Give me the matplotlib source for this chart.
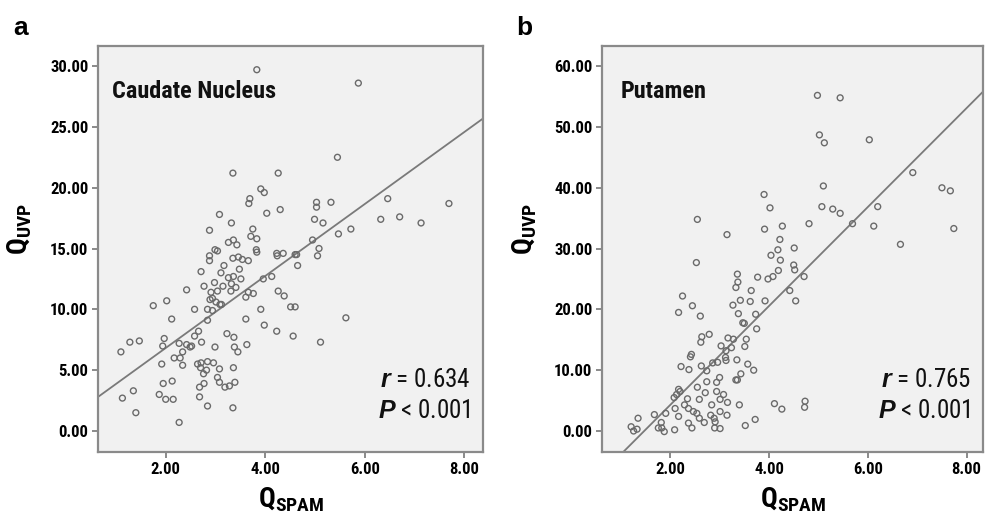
import numpy as np
import matplotlib
matplotlib.use("Agg")
import matplotlib.pyplot as plt
import matplotlib.font_manager as fm

# Caudate nucleus: Q_SPAM vs Q_UVP
caud_x = [3.83, 5.87, 5.45, 3.35, 4.26, 3.91, 3.98, 3.69, 3.67, 4.03, 4.30, 3.08,
          5.03, 5.03, 5.32, 6.46, 7.69, 6.70, 6.32, 7.13, 4.99, 5.16, 5.72, 5.47,
          3.32, 2.88, 3.75, 3.71, 3.83, 3.26, 3.36, 3.43, 4.95, 5.08, 5.05, 2.99,
          3.04, 2.88, 2.88, 3.35, 3.46, 3.54, 3.66, 3.82, 3.83, 4.23, 4.24, 4.36,
          4.60, 4.63, 4.65, 3.17, 3.48, 2.71, 3.11, 3.26, 3.36, 3.51, 2.98, 3.32,
          3.96, 4.13, 2.77, 3.15, 3.41, 3.31, 3.04, 2.91, 2.42, 4.26, 4.38, 3.66,
          3.76, 3.61, 2.94, 2.89, 3.01, 3.09, 3.12, 2.02, 1.75, 2.58, 2.84, 2.94,
          3.91, 4.51, 4.60, 2.12, 2.84, 3.61, 5.62, 3.98, 4.23, 2.66, 3.23, 4.56,
          3.37, 2.58, 1.97, 1.28, 1.47, 2.72, 5.11, 2.27, 2.42, 3.63, 1.94, 2.49,
          2.52, 2.99, 3.38, 1.10, 2.34, 3.45, 2.17, 2.29, 1.92, 2.34, 2.64, 2.71,
          2.84, 2.96, 2.70, 2.82, 3.08, 3.36, 3.04, 3.08, 3.28, 3.19, 3.39, 1.95,
          2.13, 2.77, 2.68, 1.35, 1.87, 2.68, 1.13, 2.00, 2.15, 2.84, 3.35, 1.40,
          2.27, 2.76]
caud_y = [29.7, 28.6, 22.5, 21.2, 21.2, 19.9, 19.6, 19.1, 18.7, 17.9, 18.2, 17.8,
          18.8, 18.4, 18.8, 19.1, 18.7, 17.6, 17.4, 17.1, 17.4, 17.1, 16.6, 16.2,
          17.1, 16.5, 16.6, 16.0, 15.8, 15.5, 15.7, 15.3, 15.7, 15.0, 14.4, 14.9,
          14.8, 14.4, 14.0, 14.2, 14.3, 14.1, 14.0, 14.9, 14.7, 14.6, 14.4, 14.6,
          14.5, 14.5, 13.6, 13.6, 13.3, 13.1, 13.0, 12.6, 12.7, 12.5, 12.2, 12.1,
          12.5, 12.7, 11.9, 11.9, 11.8, 11.5, 11.5, 11.4, 11.6, 11.5, 11.1, 11.4,
          11.3, 11.0, 10.9, 10.8, 10.6, 10.4, 10.4, 10.7, 10.3, 10.0, 10.0, 9.9,
          10.0, 10.2, 10.2, 9.2, 9.1, 9.2, 9.3, 8.7, 8.2, 8.2, 8.0, 7.8,
          7.7, 7.8, 7.6, 7.3, 7.4, 7.3, 7.3, 7.2, 7.1, 7.1, 6.98, 6.9,
          6.98, 6.9, 6.9, 6.5, 6.5, 6.5, 6.0, 6.0, 5.5, 5.4, 5.5, 5.6,
          5.7, 5.6, 5.2, 5.0, 5.1, 5.2, 4.4, 4.0, 3.7, 3.6, 4.0, 3.9,
          4.1, 3.9, 3.6, 3.3, 3.0, 2.8, 2.7, 2.6, 2.6, 2.05, 1.9, 1.5,
          0.7, 4.7]

# Putamen: Q_SPAM vs Q_UVP
put_x = [4.98, 5.44, 5.02, 5.12, 6.03, 6.91, 5.10, 7.50, 7.67, 3.90, 4.02, 5.07,
         5.29, 5.44, 6.20, 5.69, 4.81, 4.27, 3.91, 6.12, 7.74, 2.55, 3.15, 4.22,
         6.66, 4.18, 4.51, 4.04, 4.23, 2.53, 4.50, 4.52, 4.19, 3.36, 3.37, 3.77,
         3.98, 4.08, 4.71, 3.33, 3.64, 4.42, 2.25, 3.42, 3.62, 3.92, 4.54, 2.45,
         3.27, 2.17, 3.38, 3.73, 2.61, 3.47, 3.50, 3.75, 2.79, 2.64, 2.62, 3.17,
         3.28, 3.54, 3.24, 3.03, 3.51, 3.13, 2.43, 2.41, 3.12, 3.13, 3.35, 2.96,
         2.86, 3.57, 2.22, 2.38, 2.63, 2.74, 3.69, 3.43, 3.00, 3.33, 3.36, 2.74,
         2.94, 2.55, 2.94, 2.71, 2.17, 2.20, 2.13, 2.08, 2.35, 2.59, 3.01, 3.16,
         2.29, 3.40, 4.11, 4.26, 4.73, 4.72, 2.10, 2.47, 2.54, 2.84, 2.82, 3.01,
         3.15, 1.91, 1.68, 2.17, 2.59, 2.69, 2.89, 3.72, 1.35, 1.21, 1.33, 1.26,
         1.82, 1.76, 1.83, 1.88, 2.09, 2.44, 2.90, 3.01, 3.52, 2.37, 2.91, 2.37,
         3.08]
put_y = [55.2, 54.8, 48.7, 47.4, 47.9, 42.5, 40.3, 40.0, 39.5, 38.9, 36.7, 36.9,
         36.5, 35.8, 36.9, 34.1, 34.1, 33.7, 33.2, 33.7, 33.3, 34.8, 32.3, 31.5,
         30.7, 29.8, 30.1, 28.9, 28.1, 27.7, 27.3, 26.5, 26.4, 25.8, 24.5, 25.3,
         25.0, 25.4, 25.4, 23.6, 23.1, 23.1, 22.2, 21.5, 21.3, 21.4, 21.4, 20.6,
         20.7, 19.5, 19.3, 19.2, 18.9, 17.8, 17.7, 16.8, 15.9, 15.5, 14.6, 15.3,
         15.1, 15.1, 13.7, 14.0, 13.9, 13.2, 12.6, 12.2, 12.1, 11.6, 11.7, 11.3,
         11.2, 11.0, 10.6, 10.1, 10.7, 9.9, 10.0, 9.4, 8.8, 8.4, 8.4, 8.1,
         8.0, 7.2, 6.5, 6.3, 6.85, 6.5, 6.0, 5.5, 5.3, 5.2, 5.2, 4.7,
         4.3, 4.3, 4.5, 3.6, 4.9, 3.9, 3.7, 3.2, 2.9, 4.3, 2.6, 3.2,
         2.6, 2.9, 2.7, 2.4, 2.1, 1.4, 2.1, 1.9, 2.1, 0.7, 0.3, 0.0,
         1.4, 0.5, 0.5, -0.1, 0.2, 0.5, 0.5, 0.4, 0.9, 1.3, 1.5, 3.7,
         6.0]

# fit lines (intercept, slope)
caud_fit = (0.9, 2.96)
put_fit = (-12.0, 8.14)

caud_r, caud_p = "0.634", "< 0.001"
put_r, put_p = "0.765", "< 0.001"

# narrow sans like the SPSS output, if one is installed
have = {f.name for f in fm.fontManager.ttflist}
narrow = next((n for n in ['Liberation Sans Narrow', 'Roboto Condensed', 'PT Sans Narrow',
                           'Liberation Sans'] if n in have), 'DejaVu Sans')

plt.rcParams['font.family'] = [narrow, 'Liberation Sans', 'DejaVu Sans']
plt.rcParams['mathtext.fontset'] = 'custom'
plt.rcParams['mathtext.bf'] = narrow + ':bold'
plt.rcParams['mathtext.it'] = 'Liberation Sans:italic:bold'
plt.rcParams['mathtext.rm'] = narrow

fig = plt.figure(figsize=(9.88, 5.23), dpi=100)
ax1 = fig.add_axes([0.0992, 0.1358, 0.3897, 0.776])
ax2 = fig.add_axes([0.6093, 0.1358, 0.3856, 0.776])

gray = '#6a6a6a'


def draw_panel(ax, x, y, fit, xlim, ylim, yticks, name, name_x, r, p):
    ax.set_facecolor('#f1f1f1')
    ax.scatter(x, y, s=18, facecolors='none', edgecolors=gray, linewidths=1.0, zorder=3)
    ax.axline((0, fit[0]), slope=fit[1], color='#7a7a7a', lw=1.3, zorder=2)
    ax.set_xlim(*xlim)
    ax.set_ylim(*ylim)
    ax.set_xticks([2, 4, 6, 8])
    ax.set_yticks(yticks)
    ax.xaxis.set_major_formatter(matplotlib.ticker.FormatStrFormatter('%.2f'))
    ax.yaxis.set_major_formatter(matplotlib.ticker.FormatStrFormatter('%.2f'))
    ax.tick_params(length=4, width=1.2, color='#777777', labelsize=12, pad=3)
    for lab in ax.get_xticklabels() + ax.get_yticklabels():
        lab.set_fontweight('bold')
    for sp in ax.spines.values():
        sp.set_color('#8a8a8a')
        sp.set_linewidth(1.6)
    ax.text(name_x, 0.887, name, transform=ax.transAxes, fontsize=17.5,
            fontweight='bold', va='center', ha='left', color='#111111')
    ax.text(0.968, 0.177, r'$r$ = ' + r, transform=ax.transAxes, fontsize=18,
            va='center', ha='right', color='#111111')
    ax.text(0.968, 0.10, r'$P$ ' + p, transform=ax.transAxes, fontsize=18,
            va='center', ha='right', color='#111111')
    ax.set_xlabel(r'$\mathbf{Q}_{\mathbf{SPAM}}$', fontsize=20, labelpad=6)
    ax.set_ylabel(r'$\mathbf{Q}_{\mathbf{UVP}}$', fontsize=20, labelpad=6)
    ax.yaxis.set_label_coords(-0.165, 0.55)


draw_panel(ax1, caud_x, caud_y, caud_fit, (0.64, 8.375), (-1.73, 31.64),
           [0, 5, 10, 15, 20, 25, 30], 'Caudate Nucleus', 0.036, caud_r, caud_p)
draw_panel(ax2, put_x, put_y, put_fit, (0.62, 8.33), (-3.45, 63.3),
           [0, 10, 20, 30, 40, 50, 60], 'Putamen', 0.05, put_r, put_p)

fig.text(21 / 988, 1 - 28 / 523, 'a', fontsize=19, fontweight='bold', va='center',
         ha='center', family='Liberation Sans')
fig.text(524 / 988, 1 - 28 / 523, 'b', fontsize=19, fontweight='bold', va='center',
         ha='center', family='Liberation Sans')

fig.savefig('out.png', dpi=100)
